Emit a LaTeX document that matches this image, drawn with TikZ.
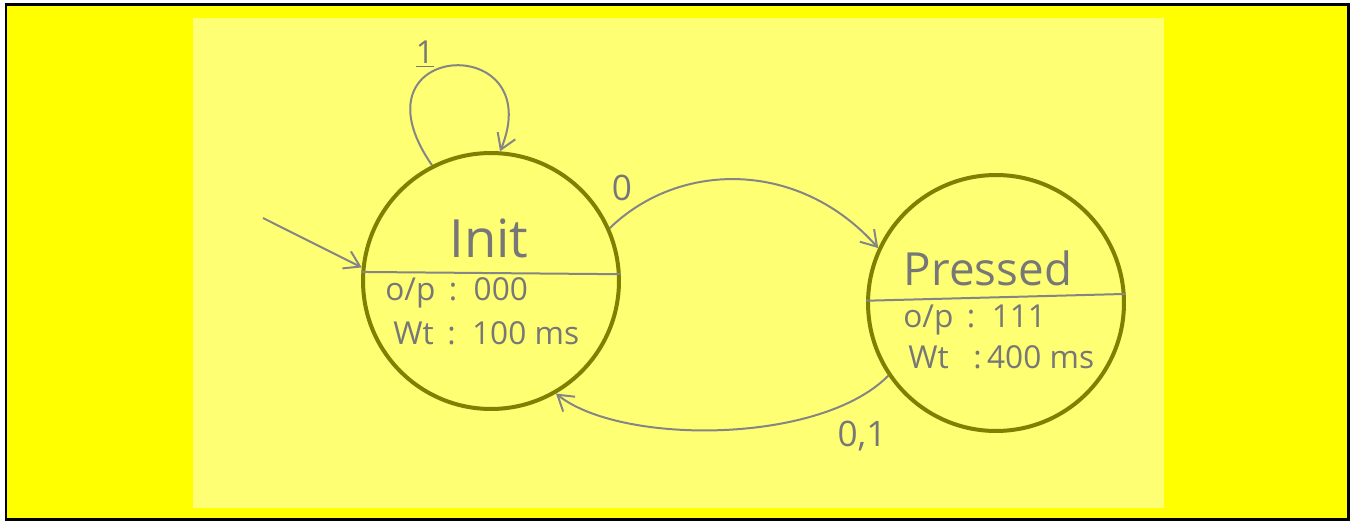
\documentclass[tikz,border=0pt]{standalone}
\usepackage{fontspec}
\setmainfont{Open Sans}
\usetikzlibrary{arrows.meta}
\definecolor{outerY}{HTML}{FFFF00}
\definecolor{innerY}{HTML}{FFFF73}
\definecolor{stateolive}{HTML}{7F7F00}
\definecolor{edgegray}{HTML}{858585}
\definecolor{textgray}{HTML}{777777}
\begin{document}
\begin{tikzpicture}[x=0.02cm,y=-0.02cm,
  state/.style={circle, draw=stateolive, line width=0.08cm, minimum size=5.12cm, inner sep=0pt},
  edge/.style={draw=edgegray, line width=0.04cm, -{Straight Barb[length=0.3cm,width=0.38cm]}},
  divider/.style={draw=edgegray, line width=0.04cm},
  txt/.style={text=textgray, inner sep=0pt},
  big/.style={font=\fontsize{30}{30}\selectfont},
  small/.style={font=\fontsize{18}{18}\selectfont},
  lbl/.style={font=\fontsize{20}{20}\selectfont}]
\useasboundingbox (0,0) rectangle (1352,521);
\fill[white] (0,0) rectangle (1352,521);
\draw[fill=outerY, line width=0.06cm] (6,4.5) rectangle (1348.5,519);
\fill[innerY] (193,18) rectangle (1164,508);
% states
\node[state] (init) at (491,281) {};
\node[state] (pressed) at (996,303) {};
\draw[divider] (init.176.4) -- (init.3.6);
\draw[divider] (pressed.179) -- (pressed.4.5);
% texts
\node[txt, big] (initname) at (489,238) {Init};
\node[txt, small, anchor=west] (initop) at (385,293) {o/p\ \,:\ \ 000};
\node[txt, small, anchor=west] (initwt) at (393,333) {Wt\ \,:\ \ 100 ms};
\node[txt, font=\fontsize{26}{26}\selectfont] (pressname) at (988,268) {Pressed};
\node[txt, small, anchor=west] (pressop) at (903,320) {o/p\ \,:\ \ 111};
\node[txt, small, anchor=west] (presswt) at (908,357) {Wt\ \ \ :\,400 ms};
% edges
\coordinate (start) at (263,218);
\draw[edge] (start) -- (init.174);
\draw[edge] (init.117) .. controls (345,40) and (550,30) .. (init.86);
\node[txt, small] (lone) at (425,54) {\underline{1}};
\draw[edge] (init.24) .. controls (680,160) and (800,160) .. (pressed.155);
\node[txt, lbl] (lzero) at (622,188) {0};
\draw[edge] (pressed.214) .. controls (820,445) and (620,445) .. (init.300);
\node[txt, lbl] (lzo) at (862,436) {0,1};
\end{tikzpicture}
\end{document}
